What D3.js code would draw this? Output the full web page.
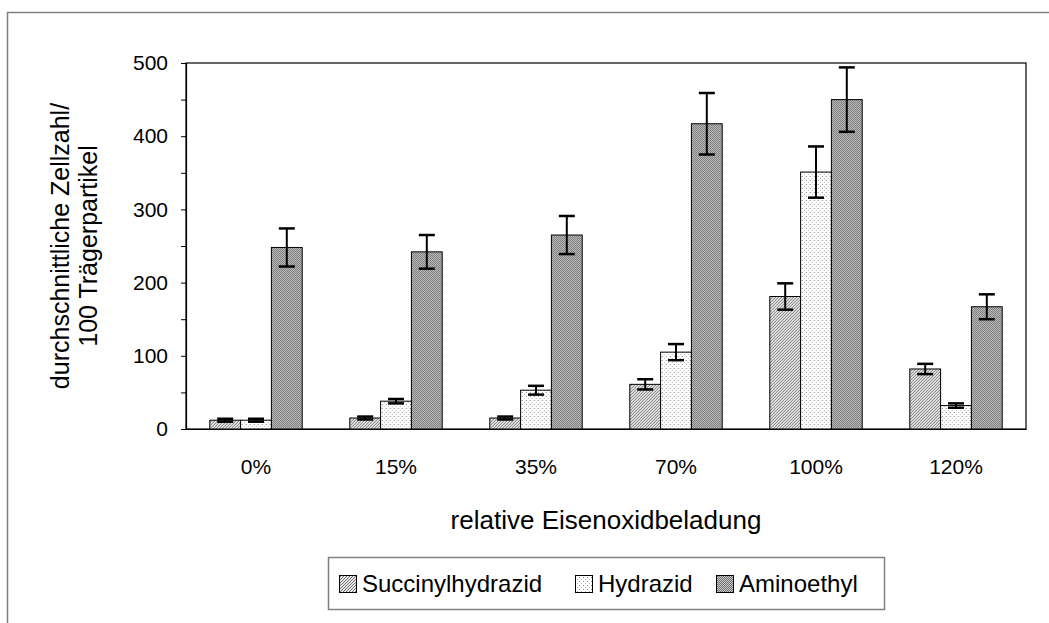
<!DOCTYPE html>
<html lang="de">
<head>
<meta charset="UTF-8">
<title>Zellzahl</title>
<script src="https://cdn.jsdelivr.net/npm/d3@7"></script>
<style>
  body { margin: 0; background: #fff; }
  text { font-family: "Liberation Sans", Arial, sans-serif; fill: #000; }
</style>
</head>
<body>
<div id="chart"></div>
<script>
// Daten
const kategorien = ["0%", "15%", "35%", "70%", "100%", "120%"];
const serien = ["Succinylhydrazid", "Hydrazid", "Aminoethyl"];
const succinyl = [12, 15, 15, 61, 181, 82];
const succinylErr = [2, 2, 2, 7, 18, 7];
const hydrazid = [12, 38, 53, 105, 351, 32];
const hydrazidErr = [2, 3, 6, 11, 35, 3];
const aminoethyl = [248, 242, 265, 417, 450, 167];
const aminoethylErr = [26, 23, 26, 42, 44, 17];
const yTicks = [0, 100, 200, 300, 400, 500];

const W = 1049, H = 623;
const plot = { left: 186, top: 63, right: 1026, bottom: 429 };

const svg = d3.select("#chart").append("svg")
  .attr("width", W).attr("height", H);

// Muster fuer die Balken
const defs = svg.append("defs");
const p1 = defs.append("pattern").attr("id", "pat-succ")
  .attr("patternUnits", "userSpaceOnUse").attr("width", 3).attr("height", 3);
p1.append("rect").attr("width", 3).attr("height", 3).attr("fill", "#e4e4e4");
p1.append("path").attr("d", "M0,3 L3,0 M-1,1 L1,-1 M2,4 L4,2")
  .attr("stroke", "#7a7a7a").attr("stroke-width", 1);

const p2 = defs.append("pattern").attr("id", "pat-hyd")
  .attr("patternUnits", "userSpaceOnUse").attr("width", 4).attr("height", 4);
p2.append("rect").attr("width", 4).attr("height", 4).attr("fill", "#fff");
p2.append("rect").attr("x", 0).attr("y", 0).attr("width", 1).attr("height", 1).attr("fill", "#888");
p2.append("rect").attr("x", 2).attr("y", 2).attr("width", 1).attr("height", 1).attr("fill", "#bbb");

const p3 = defs.append("pattern").attr("id", "pat-amino")
  .attr("patternUnits", "userSpaceOnUse").attr("width", 2).attr("height", 2);
p3.append("rect").attr("width", 2).attr("height", 2).attr("fill", "#cbcbcb");
p3.append("rect").attr("x", 0).attr("y", 0).attr("width", 1).attr("height", 1).attr("fill", "#6e6e6e");
p3.append("rect").attr("x", 1).attr("y", 1).attr("width", 1).attr("height", 1).attr("fill", "#6e6e6e");

const fills = ["url(#pat-succ)", "url(#pat-hyd)", "url(#pat-amino)"];

// aeusserer Rahmen
svg.append("rect")
  .attr("x", 7.5).attr("y", 12.5).attr("width", W + 10).attr("height", H + 10)
  .attr("fill", "none").attr("stroke", "#808080").attr("stroke-width", 1.5);

// Skalen
const x0 = d3.scaleBand().domain(kategorien)
  .range([plot.left, plot.right]).paddingInner(0.34).paddingOuter(0.17);
const x1 = d3.scaleBand().domain(serien).range([0, x0.bandwidth()]);
const y = d3.scaleLinear().domain([0, 500]).range([plot.bottom, plot.top]);

// Daten pro Gruppe
const rows = kategorien.map((k, i) => ({
  kat: k,
  werte: [
    { s: serien[0], v: succinyl[i], e: succinylErr[i], f: fills[0] },
    { s: serien[1], v: hydrazid[i], e: hydrazidErr[i], f: fills[1] },
    { s: serien[2], v: aminoethyl[i], e: aminoethylErr[i], f: fills[2] }
  ]
}));

// Plotrahmen
svg.append("rect")
  .attr("x", plot.left).attr("y", plot.top)
  .attr("width", plot.right - plot.left).attr("height", plot.bottom - plot.top)
  .attr("fill", "#fff").attr("stroke", "#000").attr("stroke-width", 1.2);

const groups = svg.selectAll("g.grp").data(rows).enter().append("g")
  .attr("class", "grp")
  .attr("transform", d => `translate(${x0(d.kat)},0)`);

groups.selectAll("rect").data(d => d.werte).enter().append("rect")
  .attr("x", d => x1(d.s))
  .attr("y", d => y(d.v))
  .attr("width", x1.bandwidth())
  .attr("height", d => y(0) - y(d.v))
  .attr("fill", d => d.f)
  .attr("stroke", "#000").attr("stroke-width", 1);

// Fehlerbalken
const eb = groups.selectAll("g.err").data(d => d.werte).enter().append("g")
  .attr("class", "err")
  .attr("transform", d => `translate(${x1(d.s) + x1.bandwidth() / 2},0)`);
eb.append("line")
  .attr("y1", d => y(d.v + d.e)).attr("y2", d => y(d.v - d.e))
  .attr("stroke", "#000").attr("stroke-width", 2);
eb.append("line").attr("x1", -8).attr("x2", 8)
  .attr("y1", d => y(d.v + d.e)).attr("y2", d => y(d.v + d.e))
  .attr("stroke", "#000").attr("stroke-width", 2.5);
eb.append("line").attr("x1", -8).attr("x2", 8)
  .attr("y1", d => y(d.v - d.e)).attr("y2", d => y(d.v - d.e))
  .attr("stroke", "#000").attr("stroke-width", 2.5);

// Y-Achse
const yAxis = d3.axisLeft(y).tickValues(yTicks).tickSize(5).tickPadding(13);
const gy = svg.append("g").attr("transform", `translate(${plot.left},0)`).call(yAxis);
gy.select(".domain").attr("stroke", "#000").attr("stroke-width", 1.2);
gy.selectAll("text").attr("font-size", 21).attr("font-family", "Liberation Sans, Arial, sans-serif");
const yMinor = d3.axisLeft(y).tickValues([50, 150, 250, 350, 450]).tickSize(5).tickFormat("");
const gym = svg.append("g").attr("transform", `translate(${plot.left},0)`).call(yMinor);
gym.select(".domain").remove();

// X-Achse
const xAxis = d3.axisBottom(x0).tickSize(0).tickPadding(30);
const gx = svg.append("g").attr("transform", `translate(0,${plot.bottom})`).call(xAxis);
gx.select(".domain").attr("stroke", "#000").attr("stroke-width", 1.2);
gx.selectAll("text").attr("font-size", 21).attr("font-family", "Liberation Sans, Arial, sans-serif");

// Achsentitel
svg.append("text")
  .attr("x", 606).attr("y", 529)
  .attr("text-anchor", "middle").attr("font-size", 26)
  .text("relative Eisenoxidbeladung");

const yt = svg.append("text")
  .attr("transform", `translate(69,${(plot.top + plot.bottom) / 2}) rotate(-90)`)
  .attr("text-anchor", "middle").attr("font-size", 25);
yt.append("tspan").attr("x", 0).attr("dy", 0).text("durchschnittliche Zellzahl/");
yt.append("tspan").attr("x", 0).attr("dy", 28).text("100 Trägerpartikel");

// Legende
const leg = svg.append("g").attr("transform", "translate(328,557)");
leg.append("rect").attr("x", 0.5).attr("y", 0.5).attr("width", 556).attr("height", 52)
  .attr("fill", "#fff").attr("stroke", "#808080").attr("stroke-width", 1.5);
const legX = [11, 247, 388];
serien.forEach((s, i) => {
  const g = leg.append("g").attr("transform", `translate(${legX[i]},0)`);
  g.append("rect").attr("x", 0.5).attr("y", 18.5).attr("width", 17).attr("height", 17)
    .attr("fill", fills[i]).attr("stroke", "#000").attr("stroke-width", 1);
  g.append("text").attr("x", 23).attr("y", 35).attr("font-size", 24).text(s);
});
</script>
</body>
</html>
